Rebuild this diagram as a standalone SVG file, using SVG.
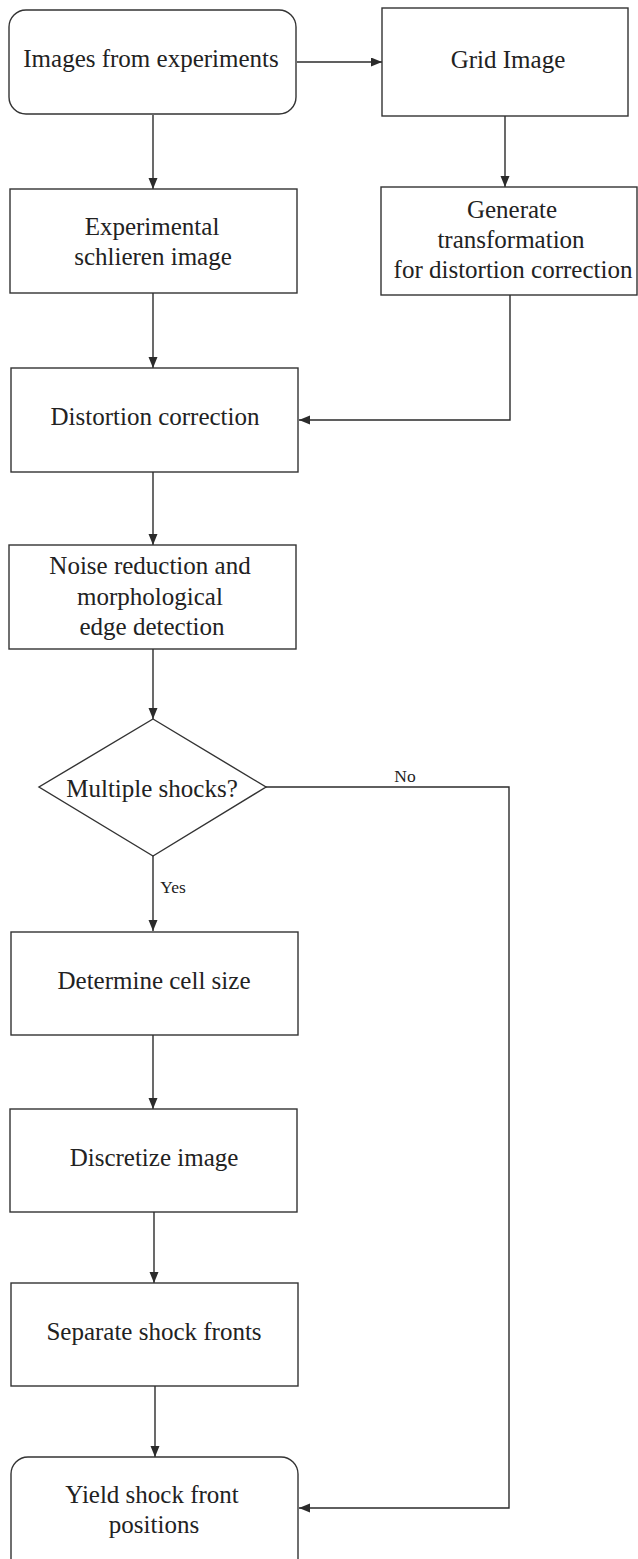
<svg xmlns="http://www.w3.org/2000/svg" width="638" height="1559" viewBox="0 0 638 1559">
<defs>
<marker id="arr" markerWidth="12" markerHeight="10" refX="11" refY="4.5" orient="auto" markerUnits="userSpaceOnUse">
<path d="M0,0 L11,4.5 L0,9 z" fill="#2b2b2b"/>
</marker>
<style>
.box{fill:#fff;stroke:#333;stroke-width:1.4}
.t{font-family:"Liberation Serif","Times New Roman",serif;font-size:25px;fill:#222;text-anchor:middle}
.s{font-family:"Liberation Serif","Times New Roman",serif;font-size:17.5px;fill:#222;text-anchor:middle}
.c{fill:none;stroke:#2b2b2b;stroke-width:1.4;marker-end:url(#arr)}
</style>
</defs>
<rect width="638" height="1559" fill="#fff"/>
<g id="connectors">
<path class="c" d="M297,62 L382,62"/>
<path class="c" d="M153,115 L153,189"/>
<path class="c" d="M505,116 L505,187"/>
<path class="c" d="M153,293 L153,368"/>
<path class="c" d="M510,295 L510,420 L299,420"/>
<path class="c" d="M153,472 L153,545"/>
<path class="c" d="M153,649 L153,719"/>
<path class="c" d="M153,856 L153,931"/>
<path class="c" d="M153,1035 L153,1109"/>
<path class="c" d="M154,1212 L154,1283"/>
<path class="c" d="M155,1386 L155,1457"/>
<path class="c" d="M266,787 L509,787 L509,1508 L299,1508"/>
<text class="s" x="405" y="782">No</text>
<text class="s" x="173" y="893">Yes</text>
</g>
<g id="n1">
<rect class="box" x="9" y="10" width="287" height="104" rx="17"/>
<text class="t" x="151" y="67">Images from experiments</text>
</g>
<g id="n2">
<rect class="box" x="382" y="8" width="246" height="108"/>
<text class="t" x="508" y="68">Grid Image</text>
</g>
<g id="n3">
<rect class="box" x="10" y="189" width="287" height="104"/>
<text class="t" x="152" y="235">Experimental</text>
<text class="t" x="153" y="265">schlieren image</text>
</g>
<g id="n4">
<rect class="box" x="381" y="187" width="256" height="108"/>
<text class="t" x="512" y="218">Generate</text>
<text class="t" x="511" y="248">transformation</text>
<text class="t" x="513" y="278">for distortion correction</text>
</g>
<g id="n5">
<rect class="box" x="11" y="368" width="287" height="104"/>
<text class="t" x="155" y="425">Distortion correction</text>
</g>
<g id="n6">
<rect class="box" x="9" y="545" width="287" height="104"/>
<text class="t" x="150" y="574">Noise reduction and</text>
<text class="t" x="150" y="605">morphological</text>
<text class="t" x="152" y="635">edge detection</text>
</g>
<g id="n7">
<polygon class="box" points="153,719 266,787 153,856 39,787"/>
<text class="t" x="152" y="797">Multiple shocks?</text>
</g>
<g id="n8">
<rect class="box" x="11" y="932" width="287" height="103"/>
<text class="t" x="154" y="989">Determine cell size</text>
</g>
<g id="n9">
<rect class="box" x="10" y="1109" width="287" height="103"/>
<text class="t" x="154" y="1166">Discretize image</text>
</g>
<g id="n10">
<rect class="box" x="11" y="1283" width="287" height="103"/>
<text class="t" x="154" y="1340">Separate shock fronts</text>
</g>
<g id="n11">
<rect class="box" x="11" y="1457" width="287" height="120" rx="17"/>
<text class="t" x="152" y="1503">Yield shock front</text>
<text class="t" x="154" y="1533">positions</text>
</g>
</svg>
